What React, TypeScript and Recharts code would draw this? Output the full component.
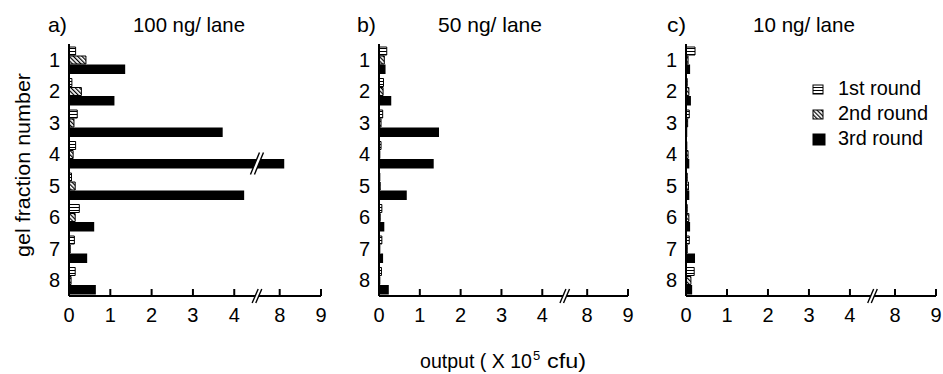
import React from 'react';
import { BarChart, Bar, XAxis, YAxis, Legend } from 'recharts';

const FONT = '"Liberation Sans", Arial, sans-serif';

const fractions = ['1', '2', '3', '4', '5', '6', '7', '8'];
const seriesNames = ['1st round', '2nd round', '3rd round'];

// output (x10^5 cfu) per gel fraction
const round1A = [0.16, 0.07, 0.2, 0.16, 0.06, 0.25, 0.13, 0.15];
const round2A = [0.41, 0.3, 0.12, 0.1, 0.15, 0.15, 0.03, 0.05];
const round3A = [1.36, 1.1, 3.72, 8.11, 4.24, 0.61, 0.44, 0.65];

const round1B = [0.19, 0.11, 0.09, 0.05, 0.02, 0.07, 0.07, 0.06];
const round2B = [0.13, 0.1, 0.05, 0.02, 0.03, 0.03, 0.02, 0.02];
const round3B = [0.16, 0.3, 1.47, 1.34, 0.68, 0.13, 0.1, 0.24];

const round1C = [0.22, 0.03, 0.08, 0.02, 0.03, 0.03, 0.08, 0.2];
const round2C = [0.05, 0.07, 0.04, 0.05, 0.06, 0.07, 0.03, 0.12];
const round3C = [0.1, 0.12, 0.03, 0.08, 0.08, 0.1, 0.22, 0.15];

const tickValues = [0, 1, 2, 3, 4, 8, 9];
const tickLabels = ['0', '1', '2', '3', '4', '8', '9'];

// broken x axis: 0..4 linear, then 8..9 placed right after a short gap
const BREAK_LOW = 4;
const BREAK_HIGH = 8;
const GAP = 1.1;
const BREAK_AT = BREAK_LOW + GAP / 2;
const toAxis = (v: number) => (v >= BREAK_HIGH ? BREAK_LOW + GAP + (v - BREAK_HIGH) : v);
const labelPos = tickValues.map(toAxis);
const AXIS_MAX = toAxis(tickValues[tickValues.length - 1]);
const axisTicks = [...labelPos.slice(0, 5), BREAK_AT, ...labelPos.slice(5)];

const panels = [
  { letter: 'a)', title: '100 ng/ lane', r1: round1A, r2: round2A, r3: round3A, plotLeft: 69, plotWidth: 252, titleX: 133, titleW: 112, letterX: 48 },
  { letter: 'b)', title: '50 ng/ lane', r1: round1B, r2: round2B, r3: round3B, plotLeft: 379, plotWidth: 249, titleX: 438, titleW: 104, letterX: 357 },
  { letter: 'c)', title: '10 ng/ lane', r1: round1C, r2: round2C, r3: round3C, plotLeft: 686, plotWidth: 250, titleX: 753, titleW: 102, letterX: 667 },
];

const Y_AXIS_W = 40;
const TOP = 44;
const PLOT_H = 252;
const X_AXIS_H = 40;
const fills = ['url(#hstripe)', 'url(#dhatch)', '#000'];
const legendTextW = [83, 90, 85];

function BreakMark({ cx, cy, h, dx, g }: { cx: number; cy: number; h: number; dx: number; g: number }) {
  const pts = `${cx - g - dx},${cy + h} ${cx - g + dx},${cy - h} ${cx + g + dx},${cy - h} ${cx + g - dx},${cy + h}`;
  return (
    <g>
      <polygon points={pts} fill="#fff" stroke="none" />
      <line x1={cx - g - dx} y1={cy + h} x2={cx - g + dx} y2={cy - h} stroke="#000" strokeWidth={1.4} />
      <line x1={cx + g - dx} y1={cy + h} x2={cx + g + dx} y2={cy - h} stroke="#000" strokeWidth={1.4} />
    </g>
  );
}

function XTick(props: any) {
  const { x, y, payload } = props;
  const v = payload.value;
  if (Math.abs(v - BREAK_AT) < 1e-6) {
    return <BreakMark cx={x} cy={y} h={7} dx={3} g={1.8} />;
  }
  const i = labelPos.findIndex((p) => Math.abs(p - v) < 1e-6);
  return (
    <g>
      <line x1={x} x2={x} y1={y} y2={y - 7} stroke="#000" strokeWidth={2} />
      <text x={x} y={y + 26} textAnchor="middle" fontSize={20} fontFamily={FONT} fill="#000">
        {i >= 0 ? tickLabels[i] : ''}
      </text>
    </g>
  );
}

function ThirdRoundBar(props: any) {
  const { x, y, width, height, payload } = props;
  if (!width || width <= 0) return null;
  const shown = payload.r3;
  const crosses = shown > BREAK_AT;
  const bx = x + (BREAK_AT * width) / shown;
  return (
    <g>
      <rect x={x} y={y - 0.5} width={width} height={height + 1.5} fill="#000" />
      {crosses && <BreakMark cx={bx} cy={y + height / 2} h={11} dx={4.5} g={2} />}
    </g>
  );
}

function LegendBox(props: any) {
  const items = props.payload || [];
  return (
    <svg width={140} height={80} fontFamily={FONT}>
      {items.map((entry: any, i: number) => {
        const cy = 15.5 + i * 25;
        const s = i === 2 ? 11 : 9;
        return (
          <g key={entry.value}>
            <rect x={1} y={cy + 2 - s / 2} width={i === 2 ? 12 : 10} height={s} fill={fills[i]} stroke="#000" strokeWidth={1} />
            <text x={26} y={cy + 7} fontSize={20} fill="#000" textLength={legendTextW[i]} lengthAdjust="spacingAndGlyphs">
              {entry.value}
            </text>
          </g>
        );
      })}
    </svg>
  );
}

function Panel({ panel, showLegend }: { panel: (typeof panels)[number]; showLegend: boolean }) {
  const rows = fractions.map((f, i) => ({
    fraction: f,
    r1: toAxis(panel.r1[i]),
    r2: toAxis(panel.r2[i]),
    r3: toAxis(panel.r3[i]),
  }));
  const right = 7;
  return (
    <div style={{ position: 'absolute', left: panel.plotLeft - Y_AXIS_W, top: 0 }}>
      <BarChart
        layout="vertical"
        width={Y_AXIS_W + panel.plotWidth + right}
        height={TOP + PLOT_H + X_AXIS_H}
        data={rows}
        margin={{ top: TOP, right, bottom: 0, left: 0 }}
        barSize={8}
        barGap={1}
      >
        <XAxis
          type="number"
          domain={[0, AXIS_MAX]}
          ticks={axisTicks}
          interval={0}
          allowDataOverflow
          height={X_AXIS_H}
          axisLine={{ stroke: '#000', strokeWidth: 2 }}
          tickLine={false}
          tickSize={0}
          tickMargin={0}
          tick={(p: any) => <XTick {...p} />}
        />
        <YAxis
          type="category"
          dataKey="fraction"
          width={Y_AXIS_W}
          axisLine={{ stroke: '#000', strokeWidth: 2 }}
          tickLine={false}
          tickSize={0}
          tickMargin={9}
          tick={{ fontSize: 20, fill: '#000', fontFamily: FONT }}
        />
        {showLegend && (
          <Legend
            layout="vertical"
            align="center"
            verticalAlign="middle"
            content={(p: any) => <LegendBox {...p} />}
            wrapperStyle={{ left: 166, top: 72, width: 140 }}
          />
        )}
        <Bar dataKey="r1" name={seriesNames[0]} fill={fills[0]} stroke="#000" strokeWidth={1} isAnimationActive={false} />
        <Bar dataKey="r2" name={seriesNames[1]} fill={fills[1]} stroke="#000" strokeWidth={1} isAnimationActive={false} />
        <Bar dataKey="r3" name={seriesNames[2]} fill={fills[2]} shape={(p: any) => <ThirdRoundBar {...p} />} isAnimationActive={false} />
      </BarChart>
    </div>
  );
}

export default function App() {
  return (
    <div style={{ position: 'absolute', left: 0, top: 0, width: 943, height: 374, background: '#fff', overflow: 'hidden' }}>
      <svg width={0} height={0} style={{ position: 'absolute' }}>
        <defs>
          <pattern id="hstripe" patternUnits="userSpaceOnUse" width={4} height={3}>
            <rect width={4} height={3} fill="#fff" />
            <rect y={0} width={4} height={1} fill="#000" />
          </pattern>
          <pattern id="dhatch" patternUnits="userSpaceOnUse" width={3} height={3} patternTransform="rotate(-45)">
            <rect width={3} height={3} fill="#fff" />
            <rect x={0} width={1.2} height={3} fill="#000" />
          </pattern>
        </defs>
      </svg>
      <svg width={943} height={374} style={{ position: 'absolute', left: 0, top: 0 }} fontFamily={FONT} fill="#000">
        {panels.map((p) => (
          <g key={p.letter}>
            <text x={p.letterX} y={32} fontSize={21} textLength={19} lengthAdjust="spacingAndGlyphs">{p.letter}</text>
            <text x={p.titleX} y={32} fontSize={21} textLength={p.titleW} lengthAdjust="spacingAndGlyphs">{p.title}</text>
          </g>
        ))}
        <text
          x={30}
          y={165}
          fontSize={21}
          textAnchor="middle"
          transform="rotate(-90 30 165)"
          textLength={184}
          lengthAdjust="spacingAndGlyphs"
        >
          gel fraction number
        </text>
        <text x={420} y={368} fontSize={20} textLength={112} lengthAdjust="spacingAndGlyphs">output ( X 10</text>
        <text x={533} y={360} fontSize={13}>5</text>
        <text x={547} y={368} fontSize={20} textLength={39} lengthAdjust="spacingAndGlyphs">cfu)</text>
      </svg>
      {panels.map((p, i) => (
        <Panel key={p.letter} panel={p} showLegend={i === 2} />
      ))}
    </div>
  );
}
